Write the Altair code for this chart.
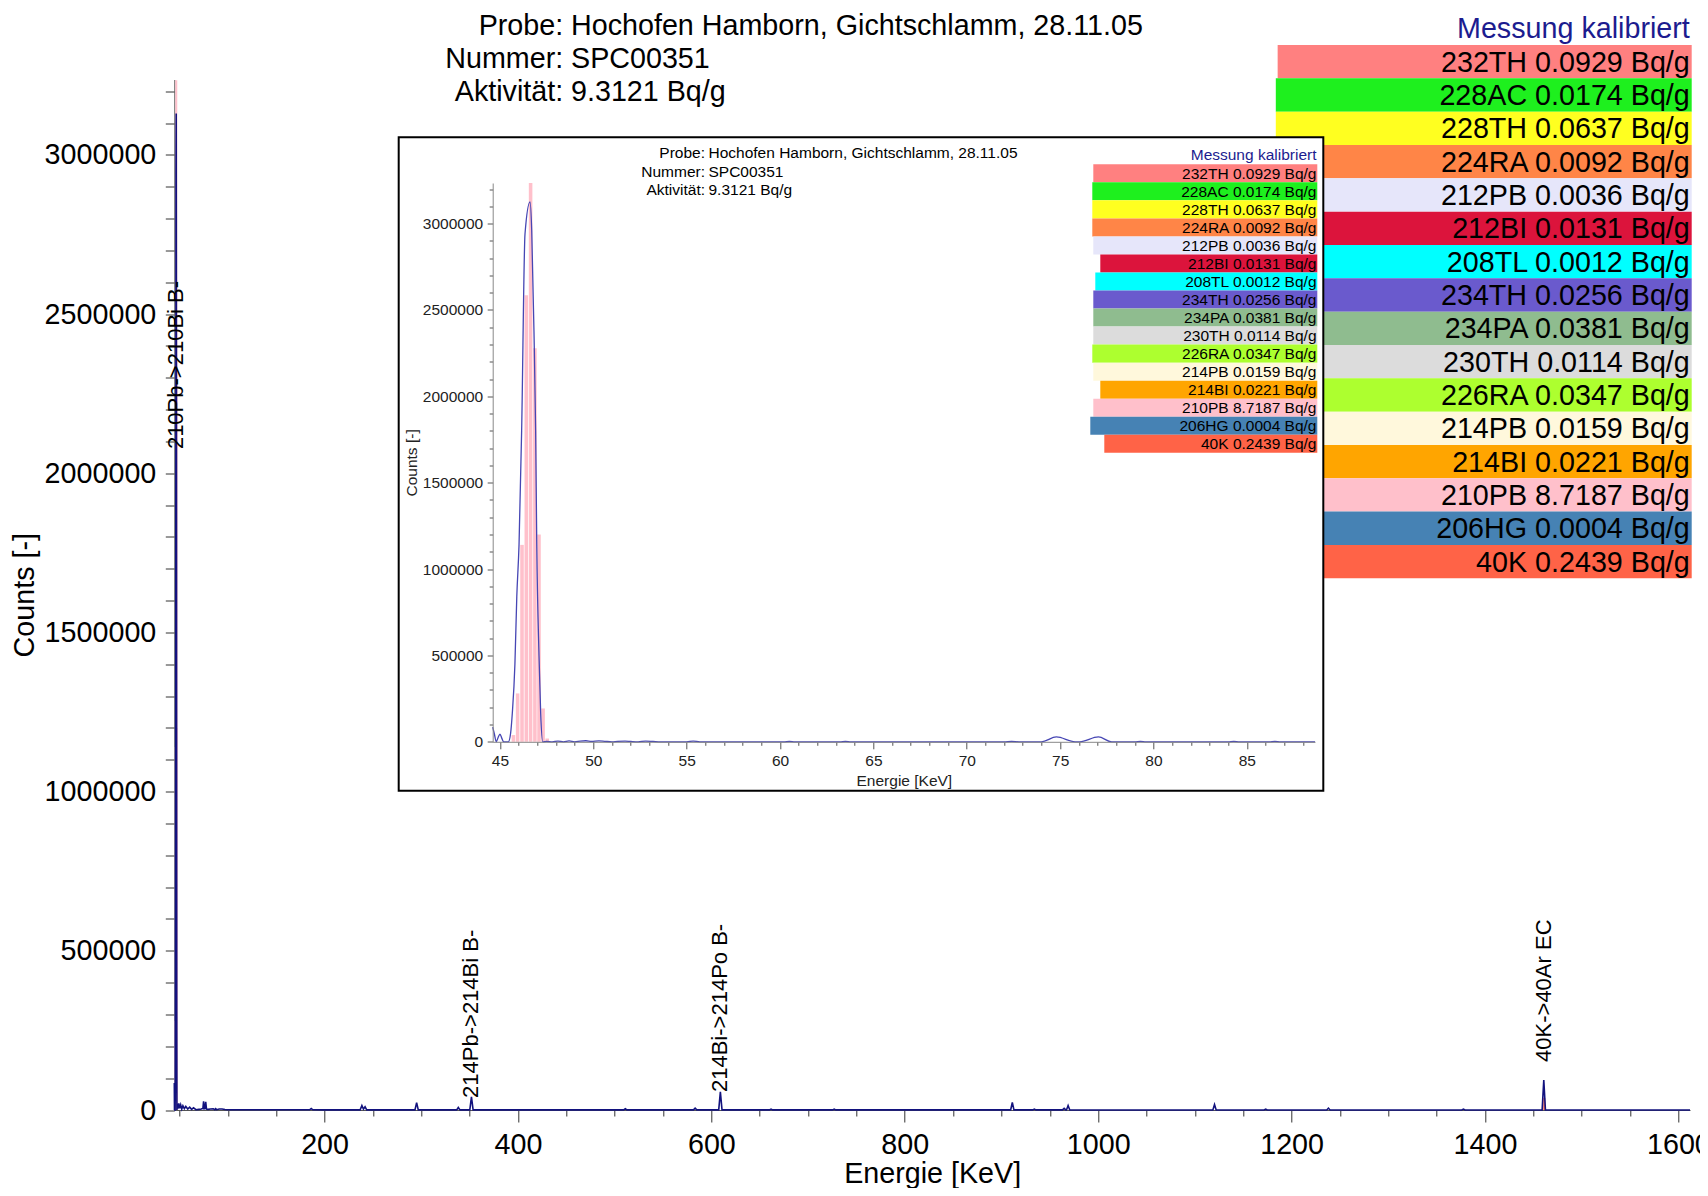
import altair as alt
import pandas as pd

FONT = "Liberation Sans"

# ---------------- header text ----------------
info_keys = ["Probe:", "Nummer:", "Aktivität:"]
info_values = ["Hochofen Hamborn, Gichtschlamm, 28.11.05", "SPC00351", "9.3121 Bq/g"]

# ---------------- legend ----------------
legend_title = "Messung kalibriert"
nuclides = ["232TH", "228AC", "228TH", "224RA", "212PB", "212BI", "208TL", "234TH",
            "234PA", "230TH", "226RA", "214PB", "214BI", "210PB", "206HG", "40K"]
activities = [0.0929, 0.0174, 0.0637, 0.0092, 0.0036, 0.0131, 0.0012, 0.0256,
              0.0381, 0.0114, 0.0347, 0.0159, 0.0221, 8.7187, 0.0004, 0.2439]
nuclide_colors = ["#FF8080", "#1EF01E", "#FFFF20", "#FF8547", "#E6E6FA", "#DC143C",
                  "#00FFFF", "#6A5ACD", "#8FBC8F", "#DCDCDC", "#ADFF2F", "#FFF8DC",
                  "#FFA500", "#FFC0CB", "#4682B4", "#FF6347"]

# ---------------- full spectrum (Energie keV, Counts) ----------------
spec_energy = [44.61, 44.8, 45.0, 45.2, 45.45, 45.6, 45.8, 46.0, 46.2, 46.35, 46.6, 46.8, 47.0, 47.15, 47.3,
               47.6, 48.4, 49.3, 50.2, 51.2, 52.3, 53.5, 55.0, 56.5, 58.5, 60.5, 62.5, 64.5, 67, 70,
               72.5, 74.2, 74.9, 75.6, 76.3, 77.1, 77.9, 79.5, 82, 84.9, 86.5, 87.3, 88.5, 91, 94, 97,
               100, 110, 130, 150, 170, 184.5, 186.2, 188, 200, 220, 236.8, 238.6, 240.2, 241.9, 243.6,
               260, 280, 293.5, 295.2, 296.9, 320, 336.6, 338.3, 340, 350.2, 351.9, 353.6, 380, 420,
               460, 509.3, 511, 512.7, 550, 581.5, 583.2, 584.9, 607.6, 609.3, 611, 640, 660, 661.7,
               663.4, 700, 725.3, 727, 728.7, 780, 840, 880, 909.5, 911.2, 912.9, 932.3, 934, 935.7,
               963.1, 964.8, 966.5, 967.2, 968.9, 970.6, 1000, 1060, 1118.6, 1120.3, 1122, 1171.5,
               1173.2, 1174.9, 1210, 1236.4, 1238.1, 1239.8, 1300, 1376, 1377.7, 1379.4, 1420, 1459.1,
               1460.8, 1462.5, 1520, 1580, 1612]
spec_counts = [85000, 0, 44000, 0, 0, 60000, 450000, 1140000, 2000000, 2940000, 3130000, 2400000, 1000000, 250000, 0,
               20000, 4000, 21000, 5000, 16000, 3000, 13000, 4000, 11000, 3000, 9000, 2000, 7000, 1000, 2000,
               3000, 5000, 27000, 4000, 5000, 26000, 3000, 2000, 3000, 3500, 1000, 4000, 1000, 3000, 3000, 1500,
               1000, 800, 700, 600, 600, 600, 4500, 600, 500, 500, 500, 14000, 3000, 10000, 500,
               500, 500, 500, 23000, 500, 400, 400, 8000, 400, 400, 41000, 400, 400, 300,
               300, 300, 4000, 300, 300, 300, 6000, 300, 300, 57000, 300, 300, 300, 2500,
               300, 250, 250, 2500, 250, 250, 250, 250, 250, 24000, 250, 250, 3000, 250,
               250, 5000, 250, 250, 14000, 250, 200, 200, 200, 17000, 200, 200,
               2500, 200, 200, 200, 6000, 200, 150, 150, 3000, 150, 150, 150,
               94000, 150, 100, 100, 100]

# ---------------- zoomed spectrum for the inset ----------------
zoom_energy = [44.61, 44.7, 44.8, 44.9, 45.0, 45.1, 45.2, 45.45, 45.57, 45.66, 45.8, 45.9, 46.02, 46.16,
               46.34, 46.61, 46.7, 46.82, 46.91, 46.97, 47.09, 47.18, 47.29, 47.5, 47.8, 48.1, 48.4,
               48.7, 49.0, 49.3, 49.6, 49.9, 50.3, 50.6, 51.0, 51.3, 51.7, 52.0, 52.4, 52.8, 53.2,
               53.6, 55.0, 55.35, 55.7, 60.2, 60.5, 60.8, 63.2, 63.5, 63.8, 72.0, 72.4, 72.8, 74.0,
               74.8, 75.8, 76.05, 77.05, 77.76, 79.0, 79.3, 79.6, 84.0, 84.3, 84.6, 86.2, 86.5, 86.8,
               88.65]
zoom_counts = [85000, 45000, 0, 25000, 44000, 20000, 0, 0, 50000, 165000, 450000, 840000, 1140000, 1800000,
               2940000, 3125000, 2960000, 2380000, 1800000, 1140000, 500000, 164000, 0, 3000, 0, 4000, 0,
               5000, 0, 4000, 6000, 2000, 5000, 3000, 0, 3000, 4000, 2000, 0, 4000, 2000,
               0, 0, 4000, 0, 0, 2000, 0, 0, 2000, 0, 0, 2000, 0, 0,
               28000, 0, 0, 28000, 0, 0, 2000, 0, 0, 2000, 0, 0, 2000, 0,
               0]

# ---------------- fitted peak bins ----------------
fit_nuclide = ["210PB"] * 9 + ["40K"]
fit_energy = [45.72, 45.945, 46.18, 46.41, 46.64, 46.87, 47.09, 47.31, 47.53, 1461.3]
fit_counts = [39000, 280000, 1140000, 2585000, 3235000, 2278000, 1200000, 193000, 19000, 38000]

# ---------------- peak annotations ----------------
peak_labels = ["210Pb->210Bi B-", "214Pb->214Bi B-", "214Bi->214Po B-", "40K->40Ar EC"]
peak_label_energy = [46.6, 351.9, 609.3, 1460.8]
peak_label_counts = [2076000, 38000, 56500, 151000]

# ---------------- tick positions ----------------
x_main_ticks = list(range(50, 1601, 50))
y_ticks = list(range(0, 3200001, 100000))
x_zoom_ticks = list(range(45, 89))

# ---------------- styles ----------------
legend_row_widths = [224, 225, 225, 225, 224, 217, 222, 224, 224, 224, 225, 224, 217, 224, 227, 213]
NAVY = "#12127E"
INSET_LINE = "#4646B4"
TITLE_BLUE = "#1C1C8F"
S = 0.541  # inset scale

# ---------------- data frames ----------------
spec_df = pd.DataFrame({"E": spec_energy, "C": spec_counts})
zoom_df = pd.DataFrame({"E": zoom_energy, "C": zoom_counts})
fit_df = pd.DataFrame({"nuclide": fit_nuclide, "E": fit_energy, "C": fit_counts})
lab_df = pd.DataFrame({"label": peak_labels, "E": peak_label_energy, "C": peak_label_counts})

color_scale = alt.Scale(domain=nuclides, range=nuclide_colors)
col = alt.Color("nuclide:N", scale=color_scale, legend=None)

# ---------------- main panel ----------------
xs_main = alt.Scale(domain=[44.61, 1612], nice=False, zero=False)
ys_main = alt.Scale(domain=[0, 3237000], nice=False)

ax_x_main = alt.Axis(
    values=x_main_ticks, format="d",
    labelExpr="datum.value % 200 === 0 ? datum.label : ''",
    tickSize={"condition": {"test": "datum.value % 200 === 0", "value": 12}, "value": 6},
    tickColor="#333333", domainColor="#555555", grid=False,
    labelFont=FONT, labelFontSize=28.7, labelColor="black", labelPadding=8,
    labelOverlap=False, labelFlush=False,
    title="Energie [KeV]", titleFont=FONT, titleFontSize=28.7, titleFontWeight="normal",
    titleColor="black", titleBaseline="alphabetic", titleY=72.5)
ax_y_main = alt.Axis(
    values=y_ticks, format="d",
    labelExpr="datum.value % 500000 === 0 ? datum.label : ''",
    tickSize=9, tickColor="#333333", domainColor="#555555", grid=False,
    labelFont=FONT, labelFontSize=28.7, labelColor="black", labelPadding=9.5,
    labelOverlap=False, labelFlush=False,
    title="Counts [-]", titleFont=FONT, titleFontSize=28.7, titleFontWeight="normal",
    titleColor="black", titleBaseline="middle", titleX=-150)

ex_main = alt.X("E:Q", scale=xs_main, axis=ax_x_main, title="Energie [KeV]")
ey_main = alt.Y("C:Q", scale=ys_main, axis=ax_y_main, title="Counts [-]")

main_bars = alt.Chart(fit_df).mark_rule(strokeWidth=2).encode(
    x=ex_main, y=ey_main, y2=alt.datum(0), color=col)
main_line = alt.Chart(spec_df).mark_line(color=NAVY, strokeWidth=1.6).encode(x=ex_main, y=ey_main)
main_text = alt.Chart(lab_df).mark_text(
    angle=270, align="left", baseline="middle", font=FONT, fontSize=22, color="black"
).encode(x=ex_main, y=ey_main, text="label:N")
main_panel = alt.layer(main_bars, main_line, main_text)

# ---------------- inset panel ----------------
xs_in = alt.Scale(domain=[44.61, 88.65], range=[318.4, 1140.7], nice=False, zero=False)
ys_in = alt.Scale(domain=[0, 3235000], range=[662.3, 103.5], nice=False)

ax_x_in = alt.Axis(
    orient="bottom", offset=-368.2, zindex=1,
    values=x_zoom_ticks, format="d",
    labelExpr="datum.value % 5 === 0 ? datum.label : ''",
    tickSize={"condition": {"test": "datum.value % 5 === 0", "value": 7}, "value": 3.5},
    tickColor="#555555", domainColor="#888888", grid=False,
    labelFont=FONT, labelFontSize=15.5, labelColor="#222222", labelPadding=4.8,
    labelOverlap=False, labelFlush=False,
    title="Energie [KeV]", titleFont=FONT, titleFontSize=15.5, titleFontWeight="normal",
    titleColor="#222222", titleBaseline="alphabetic", titleY=43.7)
ax_y_in = alt.Axis(
    orient="left", offset=-318.4, zindex=1,
    values=y_ticks, format="d",
    labelExpr="datum.value % 500000 === 0 ? datum.label : ''",
    tickSize={"condition": {"test": "datum.value % 500000 === 0", "value": 5.5}, "value": 3.5},
    tickColor="#555555", domainColor="#888888", grid=False,
    labelFont=FONT, labelFontSize=15.5, labelColor="#222222", labelPadding=4.5,
    labelOverlap=False, labelFlush=False,
    title="Counts [-]", titleFont=FONT, titleFontSize=15.5, titleFontWeight="normal",
    titleColor="#222222", titleBaseline="middle", titleX=-81)

inset_bars = alt.Chart(fit_df).transform_filter("datum.E < 88.65").transform_calculate(
    E0="datum.E - 0.095", E1="datum.E + 0.095"
).mark_rect().encode(
    x=alt.X("E0:Q", scale=xs_in, axis=ax_x_in, title="Energie [KeV]"), x2="E1:Q",
    y=alt.Y("C:Q", scale=ys_in, axis=ax_y_in, title="Counts [-]"), y2=alt.datum(0), color=col)
inset_line = alt.Chart(zoom_df).mark_line(color=INSET_LINE, strokeWidth=1.3, interpolate="monotone").encode(
    x=alt.X("E:Q", scale=xs_in, axis=ax_x_in, title="Energie [KeV]"),
    y=alt.Y("C:Q", scale=ys_in, axis=ax_y_in, title="Counts [-]"))
inset_panel = alt.layer(inset_bars, inset_line)


# ---------------- decorations (pixel positioned text/legend) ----------------
def info_layers(key_x, val_x, y0, dy, fs):
    df = pd.DataFrame({"key": info_keys, "val": info_values, "i": list(range(len(info_keys)))})
    base = alt.Chart(df).transform_calculate(ty=f"{y0} + datum.i * {dy}")
    keys = base.mark_text(align="right", baseline="alphabetic", font=FONT, fontSize=fs, color="black").encode(
        x=alt.value(key_x), y=alt.Y("ty:Q", scale=None, axis=None), text="key:N")
    vals = base.mark_text(align="left", baseline="alphabetic", font=FONT, fontSize=fs, color="black").encode(
        x=alt.value(val_x), y=alt.Y("ty:Q", scale=None, axis=None), text="val:N")
    return [keys, vals]


def legend_layers(right, text_right, title_y, top, rh, dy, fs, wscale):
    df = pd.DataFrame({"nuclide": nuclides, "activity": activities,
                       "i": list(range(len(nuclides))), "w": legend_row_widths})
    base = alt.Chart(df).transform_calculate(
        x0=f"{right} - datum.w * {wscale}",
        y0=f"{top} + datum.i * {rh}",
        y1=f"{top} + (datum.i + 1) * {rh}",
        ty=f"{top} + datum.i * {rh} + {dy}",
        label="datum.nuclide + ' ' + format(datum.activity, '.4f') + ' Bq/g'")
    rects = base.mark_rect().encode(
        x=alt.X("x0:Q", scale=None, axis=None), x2=alt.value(right),
        y=alt.Y("y0:Q", scale=None, axis=None), y2="y1:Q", color=col)
    texts = base.mark_text(align="right", baseline="alphabetic", font=FONT, fontSize=fs, color="black").encode(
        x=alt.value(text_right), y=alt.Y("ty:Q", scale=None, axis=None), text="label:N")
    tdf = pd.DataFrame({"t": [legend_title]})
    title = alt.Chart(tdf).mark_text(align="right", baseline="alphabetic", font=FONT, fontSize=fs,
                                     color=TITLE_BLUE).encode(
        x=alt.value(text_right), y=alt.value(title_y), text="t:N")
    return [rects, texts, title]


main_deco = info_layers(388.9, 396.7, -44.8, 33.0, 28.7) + \
    legend_layers(1517.4, 1515.5, -41.2, -34.5, 33.33, 26.6, 28.7, 1 / S)
inset_deco = info_layers(530.7, 534.2, 78.8, 18.3, 15.5) + \
    legend_layers(1143.0, 1142.2, 80.5, 84.8, 18.03, 14.4, 15.5, 1.0)

frame = alt.Chart(pd.DataFrame({"k": [0]})).mark_rect(fill="white", stroke="black", strokeWidth=2).encode(
    x=alt.value(224.4), x2=alt.value(1149.0), y=alt.value(57.8), y2=alt.value(711.3))

chart = alt.layer(main_panel, *main_deco, frame, inset_panel, *inset_deco).resolve_scale(
    x="independent", y="independent"
).properties(
    width=1515.7, height=1030.5,
    padding={"left": 166.3, "top": 71.5, "right": 10, "bottom": 78},
    autosize=alt.AutoSizeParams(type="none"),
    background="white",
).configure_view(strokeWidth=0)

chart.save("out.html", embed_options={"renderer": "svg", "actions": False})
